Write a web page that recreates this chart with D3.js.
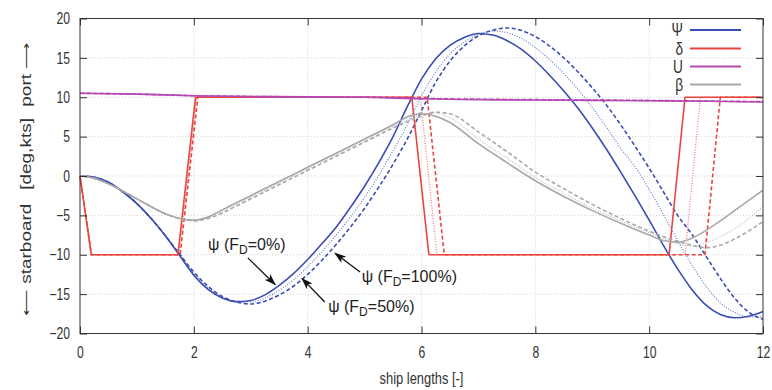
<!DOCTYPE html>
<html>
<head>
<meta charset="utf-8">
<script src="https://cdn.jsdelivr.net/npm/d3@7/dist/d3.min.js"></script>
<style>
  html, body { margin: 0; padding: 0; background: #fff; }
  svg { display: block; font-family: "Liberation Sans", Arial, Helvetica, sans-serif; }
</style>
</head>
<body>
<svg id="chart" width="772" height="390"></svg>
<script>
// ---- zigzag manoeuvre: heading, rudder, speed and drift angle ----
const xTicks = [0, 2, 4, 6, 8, 10, 12];
const yTicks = [-20, -15, -10, -5, 0, 5, 10, 15, 20];

// heading psi [deg], sampled every quarter ship length
const psiX = [0,0.25,0.5,0.75,1,1.25,1.5,1.75,2,2.25,2.5,2.75,3,3.25,3.5,3.75,4,4.25,4.5,4.75,5,5.25,5.5,5.75,6,6.25,6.5,6.75,7,7.25,7.5,7.75,8,8.25,8.5,8.75,9,9.25,9.5,9.75,10,10.25,10.5,10.75,11,11.25,11.5,11.75,12];
const psi0   = [0,-0.15,-0.8,-2.0,-3.5,-5.4,-7.6,-10.1,-12.6,-14.4,-15.5,-15.95,-15.8,-15.1,-13.9,-12.4,-10.6,-8.6,-6.5,-4.0,-1.3,1.7,5.0,8.8,12.3,14.9,16.6,17.6,18.1,17.9,17.2,16.1,14.6,12.8,10.8,8.6,6.1,3.4,0.5,-2.5,-5.6,-8.8,-11.8,-14.4,-16.4,-17.6,-18.0,-17.8,-17.2];
const psi50  = [0,-0.15,-0.8,-2.0,-3.5,-5.4,-7.6,-10.0,-12.4,-14.2,-15.4,-15.95,-16.0,-15.5,-14.5,-13.2,-11.5,-9.6,-7.5,-5.2,-2.7,0.1,3.2,6.5,10.2,13.2,15.5,17.0,18.0,18.4,18.2,17.5,16.3,14.8,13.0,11.0,8.7,6.2,3.5,1.2,-1.7,-4.9,-8.2,-11.3,-14.0,-16.1,-17.3,-17.9,-17.9];
const psi100 = [0,-0.15,-0.8,-2.0,-3.5,-5.4,-7.6,-9.9,-12.2,-14.0,-15.3,-16.0,-16.25,-15.9,-15.1,-14.0,-12.5,-10.7,-8.7,-6.5,-4.1,-1.4,1.5,4.7,8.3,11.9,14.6,16.5,17.8,18.5,18.8,18.5,17.7,16.5,15.0,13.2,11.2,9.0,6.5,3.8,1.0,-2.0,-5.0,-7.4,-10.2,-13.0,-15.5,-17.3,-18.2];

// rudder angle delta [deg], corner points of the zigzag command
const deltaX0   = [0,0.2,1.72,2.03,5.83,6.13,10.35,10.63,12];
const deltaX50  = [0,0.2,1.74,2.05,5.98,6.27,10.63,10.90,12];
const deltaX100 = [0,0.2,1.76,2.07,6.10,6.40,10.98,11.25,12];
const deltaVal  = [0,-10,-10,10,10,-10,-10,10,10];

// ship speed U [kts]
const uX   = [0,1,2,3,4,5,6,7,8,9,10,11,12];
const u0   = [10.5,10.4,10.2,10.1,10.05,10.0,9.8,9.7,9.65,9.6,9.55,9.5,9.4];
const u50  = [10.5,10.4,10.2,10.1,10.05,10.0,9.82,9.72,9.67,9.62,9.57,9.5,9.42];
const u100 = [10.5,10.4,10.2,10.1,10.05,10.0,9.85,9.75,9.7,9.65,9.6,9.52,9.45];

// drift angle beta [deg]
const betaX = [0,0.25,0.5,0.75,1,1.25,1.5,1.75,2,2.25,2.5,2.75,3,3.5,4,4.5,5,5.5,5.75,6,6.25,6.5,7,7.5,8,8.5,9,9.5,10,10.25,10.5,10.75,11,11.25,11.5,12];
const beta0   = [0,-0.3,-1.0,-1.9,-2.9,-3.9,-4.8,-5.4,-5.6,-5.2,-4.3,-3.4,-2.5,-0.7,1.1,2.9,4.7,6.5,7.5,7.9,7.6,6.8,4.1,1.7,-0.6,-2.6,-4.4,-6.0,-7.5,-8.2,-8.4,-7.9,-6.9,-5.7,-4.4,-1.8];
const beta50  = [0,-0.3,-1.0,-1.9,-2.9,-3.9,-4.8,-5.4,-5.65,-5.3,-4.5,-3.6,-2.7,-0.9,0.9,2.7,4.5,6.3,7.1,7.8,8.0,7.4,4.7,2.3,-0.2,-2.2,-4.1,-5.7,-7.2,-7.9,-8.6,-8.9,-8.5,-7.7,-6.7,-3.9];
const beta100 = [0,-0.3,-1.0,-1.9,-2.9,-3.9,-4.8,-5.4,-5.7,-5.4,-4.7,-3.8,-2.9,-1.1,0.7,2.5,4.3,6.1,6.9,7.6,8.1,7.9,5.6,3.1,0.5,-1.6,-3.6,-5.4,-7.0,-7.7,-8.3,-8.8,-9.1,-8.8,-8.0,-5.8];

const legendLabels = ["\u03A8", "\u03B4", "U", "\u03B2"];
const xLabel = "ship lengths [-]";
const yLabelParts = ["\u27F5 starboard", "[deg,kts]", "port \u27F6"];

// ---- layout ----
const svg = d3.select("#chart");
const pL = 80, pR = 763, pT = 18.5, pB = 333.5;
const x = d3.scaleLinear().domain([0, 12]).range([pL, pR]);
const y = d3.scaleLinear().domain([-20, 20]).range([pB, pT]);
const squeeze = 0.76;   // narrow glyph width of the axis lettering

const colors = { psi: "#3a4db4", delta: "#e9453f", u: "#b548b4", beta: "#a8a8a8" };
const styles = {
  solid:  { dash: null,    width: 1.6, opacity: 1 },
  dotted: { dash: "1,1.6", width: 1.2, opacity: 0.75 },
  dashed: { dash: "4,2.5", width: 1.6, opacity: 1 }
};

// grid
const grid = svg.append("g").attr("stroke", "#d2d2d2").attr("stroke-width", 1).attr("stroke-dasharray", "1,2");
grid.selectAll("line.gx").data(xTicks.slice(1, -1)).join("line").attr("class", "gx")
  .attr("x1", d => x(d)).attr("x2", d => x(d)).attr("y1", pT).attr("y2", pB);
grid.selectAll("line.gy").data(yTicks.slice(1, -1)).join("line").attr("class", "gy")
  .attr("x1", pL).attr("x2", pR).attr("y1", d => y(d)).attr("y2", d => y(d));

// series
const zipXY = (xs, ys) => xs.map((v, i) => [v, ys[i]]);
const series = [
  { xs: psiX, ys: psi0, c: colors.psi, s: "solid" },
  { xs: psiX, ys: psi50, c: colors.psi, s: "dotted" },
  { xs: psiX, ys: psi100, c: colors.psi, s: "dashed" },
  { xs: deltaX0, ys: deltaVal, c: colors.delta, s: "solid" },
  { xs: deltaX50, ys: deltaVal, c: colors.delta, s: "dotted" },
  { xs: deltaX100, ys: deltaVal, c: colors.delta, s: "dashed" },
  { xs: uX, ys: u0, c: colors.u, s: "solid" },
  { xs: uX, ys: u50, c: colors.u, s: "dotted" },
  { xs: uX, ys: u100, c: colors.u, s: "dashed" },
  { xs: betaX, ys: beta0, c: colors.beta, s: "solid" },
  { xs: betaX, ys: beta50, c: colors.beta, s: "dotted" },
  { xs: betaX, ys: beta100, c: colors.beta, s: "dashed" }
];
const pathFor = s => d3.line()
  .x(d => x(d[0])).y(d => y(d[1]))
  .curve(s.c === colors.delta ? d3.curveLinear : d3.curveMonotoneX)(zipXY(s.xs, s.ys));
svg.append("g").selectAll("path").data(series).join("path")
  .attr("d", pathFor)
  .attr("fill", "none")
  .attr("stroke", s => s.c)
  .attr("stroke-width", s => styles[s.s].width)
  .attr("stroke-opacity", s => styles[s.s].opacity)
  .attr("stroke-dasharray", s => styles[s.s].dash)
  .attr("stroke-linejoin", "round");

// axes: inward ticks on all four sides
const tickLen = 7;
const axisFont = 16;
const styleAxis = g => {
  g.select(".domain").remove();
  g.selectAll(".tick line").attr("stroke", "#333");
  g.selectAll(".tick text").attr("fill", "#333").attr("font-size", axisFont);
};
const xAxis = svg.append("g").attr("transform", `translate(0,${pB})`)
  .call(d3.axisBottom(x).tickValues(xTicks).tickSize(-tickLen).tickPadding(13).tickFormat(d3.format("d")))
  .call(styleAxis);
xAxis.selectAll(".tick text").attr("transform", `scale(${squeeze},1)`);
svg.append("g").attr("transform", `translate(0,${pT})`)
  .call(d3.axisTop(x).tickValues(xTicks).tickSize(-tickLen).tickFormat(""))
  .call(styleAxis);
const yAxis = svg.append("g").attr("transform", `translate(${pL},0)`)
  .call(d3.axisLeft(y).tickValues(yTicks).tickSize(-tickLen).tickPadding(10).tickFormat(d3.format("d")))
  .call(styleAxis);
yAxis.selectAll(".tick text").attr("x", -10 / squeeze).attr("transform", `scale(${squeeze},1)`);
svg.append("g").attr("transform", `translate(${pR},0)`)
  .call(d3.axisRight(y).tickValues(yTicks).tickSize(-tickLen).tickFormat(""))
  .call(styleAxis);

// frame
svg.append("rect").attr("x", pL).attr("y", pT).attr("width", pR - pL).attr("height", pB - pT)
  .attr("fill", "none").attr("stroke", "#333").attr("stroke-width", 1);

// axis titles
svg.append("text").attr("transform", `translate(${(pL + pR) / 2},384) scale(${squeeze},1)`)
  .attr("text-anchor", "middle").attr("font-size", 17).attr("fill", "#333").text(xLabel);
// rotated title in three pieces: starboard part ends below [deg,kts], port part starts above it
const yTitleAnchor = [[-3.5, "end"], [2.8, "middle"], [8.8, "start"]];
yLabelParts.forEach((t, i) => {
  svg.append("text")
    .attr("transform", `translate(31,${y(yTitleAnchor[i][0])}) rotate(-90) scale(1,${squeeze})`)
    .attr("text-anchor", yTitleAnchor[i][1]).attr("font-size", 19).attr("fill", "#333").text(t);
});

// legend
const legendRows = [colors.psi, colors.delta, colors.u, colors.beta];
const legY = [30, 48.5, 66.5, 84.5];
const leg = svg.append("g");
legendRows.forEach((c, i) => {
  leg.append("line").attr("x1", 690).attr("x2", 741).attr("y1", legY[i]).attr("y2", legY[i])
    .attr("stroke", c).attr("stroke-width", 1.8);
  leg.append("text").attr("transform", `translate(683,${legY[i] + 6}) scale(${squeeze},1)`)
    .attr("text-anchor", "end").attr("font-size", 18).attr("fill", "#333").text(legendLabels[i]);
});

// annotations for the three heading curves
const notes = [
  { text: "0%",   tx: 2.25, ty: -9.45, from: [2.95, -10.4], to: [3.43, -13.8] },
  { text: "100%", tx: 4.95, ty: -13.5, from: [4.92, -12.2], to: [4.48, -9.8] },
  { text: "50%",  tx: 4.36, ty: -17.3, from: [4.30, -16.0], to: [3.90, -13.0] }
];
svg.append("defs").append("marker")
  .attr("id", "head").attr("viewBox", "0 0 12 8").attr("refX", 11).attr("refY", 4)
  .attr("markerWidth", 12).attr("markerHeight", 8).attr("markerUnits", "userSpaceOnUse").attr("orient", "auto")
  .append("path").attr("d", "M0,0 L12,4 L0,8 L3,4 z").attr("fill", "#111");
notes.forEach(n => {
  svg.append("line")
    .attr("x1", x(n.from[0])).attr("y1", y(n.from[1])).attr("x2", x(n.to[0])).attr("y2", y(n.to[1]))
    .attr("stroke", "#111").attr("stroke-width", 1.3).attr("marker-end", "url(#head)");
  const t = svg.append("text").attr("x", x(n.tx)).attr("y", y(n.ty)).attr("font-size", 16).attr("fill", "#222");
  t.append("tspan").text("\u03C8 (F");
  t.append("tspan").attr("font-size", 12).attr("dy", 4).text("D");
  t.append("tspan").attr("dy", -4).text("=" + n.text + ")");
});
</script>
</body>
</html>
